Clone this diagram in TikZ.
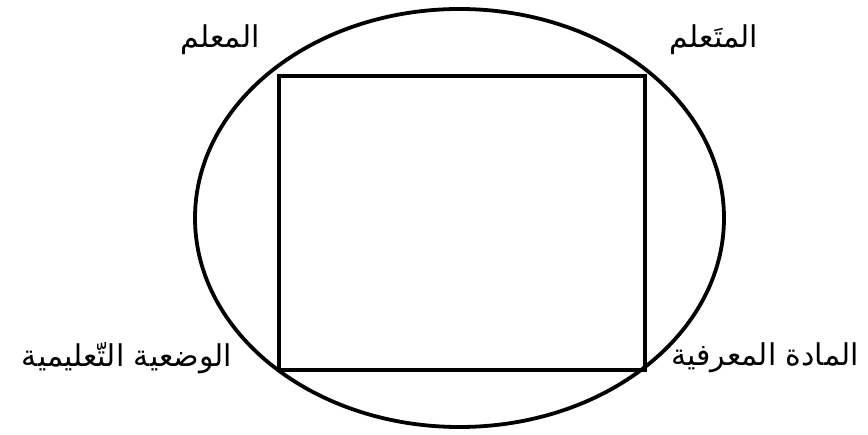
\documentclass[tikz,border=0pt]{standalone}
\usepackage{fontspec}
\TeXXeTstate=1
\newfontfamily\arabicfont[Script=Arabic]{DejaVu Sans}
\tikzset{
  lbl/.style={font=\arabicfont\fontsize{30}{36}\selectfont, inner sep=0pt},
  frame/.style={draw=black, line width=3.2pt},
}
\begin{document}
\begin{tikzpicture}[x=1pt,y=-1pt]
\useasboundingbox (0,0) rectangle (868,435);
\coordinate (c) at (459.5,218);
\draw[frame, line width=3.8pt] (c) ellipse [x radius=264.5pt, y radius=209pt];
\coordinate (tl) at (279,76);
\coordinate (br) at (645,370);
\draw[frame] (tl) rectangle (br);
\node[lbl] (teacher) at (220,40) {\beginR المعلم\endR};
\node[lbl] (learner) at (714,40) {\beginR المتَعلم\endR};
\node[lbl] (situation) at (127,358) {\beginR الوضعية التّعليمية\endR};
\node[lbl] (matter) at (765,358) {\beginR المادة المعرفية\endR};
\end{tikzpicture}
\end{document}
